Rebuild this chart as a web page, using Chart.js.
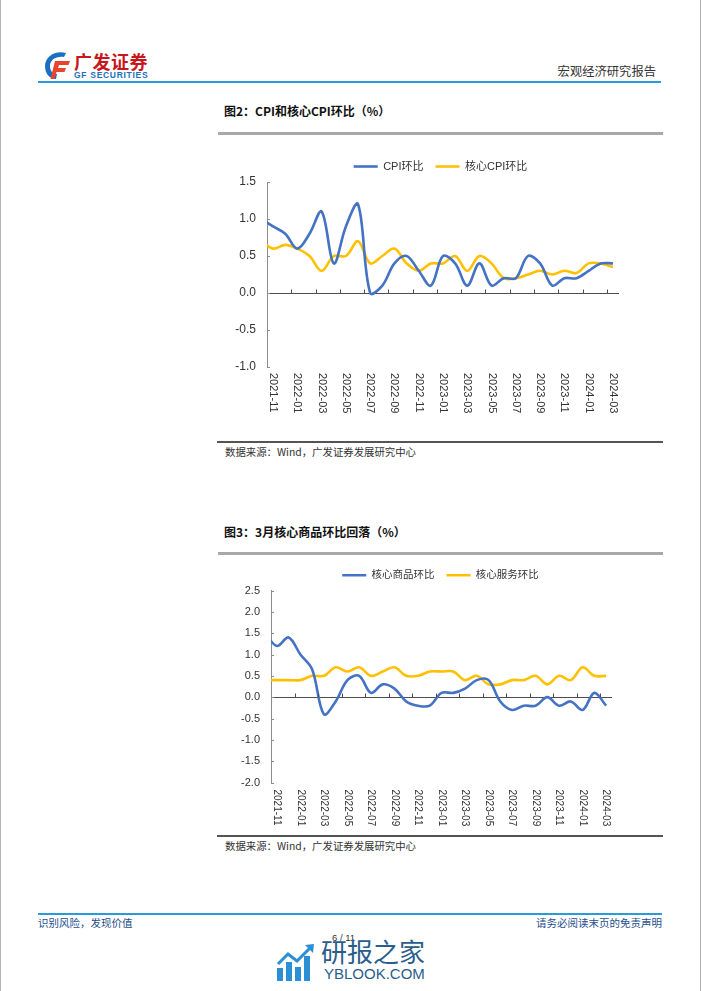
<!DOCTYPE html>
<html lang="zh-CN">
<head>
<meta charset="utf-8">
<title>CPI和核心CPI环比</title>
<script src="https://cdn.jsdelivr.net/npm/chart.js@4.4.1/dist/chart.umd.min.js"></script>
<style>
  html, body { margin: 0; padding: 0; background: #fff; }
  #page { position: relative; width: 702px; height: 991px; overflow: hidden;
          font-family: 'Noto Sans CJK SC', 'Liberation Sans', sans-serif; color: #222; }
  .abs { position: absolute; white-space: nowrap; }
  .rule { position: absolute; }
  canvas { position: absolute; }
</style>
</head>
<body>
<div id="page">
  <div class="rule" style="left:0;top:0;width:1px;height:991px;background:#b4b4b4"></div>
  <div class="rule" style="left:700px;top:0;width:1px;height:991px;background:#b4b4b4"></div>

  <!-- header -->
  <svg class="abs" style="left:41px;top:50px" width="32" height="30" viewBox="0 0 32 30">
    <path d="M25 3 C14 0 4 7 4 16 C4 24 9 29 15 29 L16 24 C11 24 9 20 9 16 C9 10 15 6 23 7 Z" fill="#1a6fc0"/>
    <path d="M14 11 H29 L27.5 15 H18 L17 18 H25 L23.5 22 H15.5 L13.5 29 H9.5 Z" fill="#e8452c"/>
  </svg>
  <div class="abs" style="left:74px;top:51px;font-size:18px;line-height:20px;font-weight:700;color:#c8161d;letter-spacing:0.5px">广发证券</div>
  <div class="abs" style="left:74px;top:71px;font:700 8.5px/8px 'Liberation Sans';color:#1d6fb8;letter-spacing:0.7px">GF SECURITIES</div>
  <div class="abs" style="right:46px;top:64px;font-size:12.3px;line-height:14px;color:#333">宏观经济研究报告</div>
  <div class="rule" style="left:38px;top:81px;width:623px;height:2px;background:#2a9ad8"></div>

  <!-- figure 2 -->
  <div class="abs" style="left:224px;top:104px;font-size:12px;line-height:14px;font-weight:700;color:#111">图2：CPI和核心CPI环比（%）</div>
  <div class="rule" style="left:218px;top:132px;width:445px;height:2.5px;background:#a8a8a8"></div>
  <canvas id="c1" width="445" height="300" style="left:218px;top:140px"></canvas>
  <div class="rule" style="left:217px;top:441px;width:446px;height:1.5px;background:#555"></div>
  <div class="abs" style="left:225px;top:446px;font-size:10.4px;line-height:12px;color:#333">数据来源：Wind，广发证券发展研究中心</div>

  <!-- figure 3 -->
  <div class="abs" style="left:224px;top:525px;font-size:12px;line-height:14px;font-weight:700;color:#111">图3：3月核心商品环比回落（%）</div>
  <div class="rule" style="left:218px;top:552px;width:445px;height:2.5px;background:#a8a8a8"></div>
  <canvas id="c2" width="445" height="280" style="left:218px;top:555px"></canvas>
  <div class="rule" style="left:217px;top:835px;width:446px;height:1.5px;background:#555"></div>
  <div class="abs" style="left:225px;top:840px;font-size:10.4px;line-height:12px;color:#333">数据来源：Wind，广发证券发展研究中心</div>

  <!-- footer -->
  <div class="rule" style="left:38px;top:913px;width:624px;height:1.5px;background:#2a9ad8"></div>
  <div class="abs" style="left:38px;top:917px;font-size:10.5px;line-height:12px;color:#1f4e8c">识别风险，发现价值</div>
  <div class="abs" style="right:40px;top:917px;font-size:10.5px;line-height:12px;color:#1f4e8c">请务必阅读末页的免责声明</div>
  <div class="abs" style="left:332px;top:933px;font:9.5px/10px 'Liberation Sans';color:#333">6 / 11</div>
  <svg class="abs" style="left:276px;top:942px" width="40" height="40" viewBox="0 0 40 40">
    <rect x="1" y="26" width="6" height="13" fill="#2b8fd6"/>
    <rect x="10" y="20" width="6" height="19" fill="#2b8fd6"/>
    <rect x="19" y="25" width="6" height="14" fill="#2b8fd6"/>
    <rect x="28" y="14" width="6" height="25" fill="#2b8fd6"/>
    <polyline points="2,22 12,12 21,19 35,5" fill="none" stroke="#2b8fd6" stroke-width="3"/>
    <polygon points="29,3 38,2 37,11" fill="#2b8fd6"/>
  </svg>
  <div class="abs" style="left:321px;top:937px;font-size:26px;line-height:28px;color:#2a5d8c">研报之家</div>
  <div class="abs" style="left:324px;top:966px;font:15px/16px 'Liberation Sans';color:#2a5d8c">YBLOOK.COM</div>
</div>

<script>
// monthly data; 2021-10 sits just left of the axis and gets clipped like the Excel original
const months = ['2021-10', '2021-11', '2021-12', '2022-01', '2022-02', '2022-03', '2022-04', '2022-05',
  '2022-06', '2022-07', '2022-08', '2022-09', '2022-10', '2022-11', '2022-12', '2023-01', '2023-02',
  '2023-03', '2023-04', '2023-05', '2023-06', '2023-07', '2023-08', '2023-09', '2023-10', '2023-11',
  '2023-12', '2024-01', '2024-02', '2024-03'];

const cpiMom = [1.0, 0.9, 0.8, 0.6, 0.8, 1.1, 0.4, 0.9, 1.2, 0.0, 0.1, 0.4, 0.5, 0.3, 0.1,
  0.5, 0.4, 0.1, 0.4, 0.1, 0.2, 0.2, 0.5, 0.4, 0.1, 0.2, 0.2, 0.3, 0.4, 0.4];
const coreCpiMom = [0.7, 0.6, 0.65, 0.6, 0.5, 0.3, 0.5, 0.5, 0.7, 0.4, 0.5, 0.6, 0.4, 0.3, 0.4,
  0.4, 0.5, 0.3, 0.5, 0.4, 0.2, 0.2, 0.25, 0.3, 0.25, 0.3, 0.27, 0.4, 0.4, 0.35];

const coreGoodsMom = [1.5, 1.2, 1.4, 1.0, 0.65, -0.4, -0.1, 0.4, 0.5, 0.1, 0.3, 0.2, -0.1, -0.2, -0.2,
  0.1, 0.1, 0.2, 0.4, 0.4, -0.1, -0.3, -0.2, -0.2, 0.0, -0.2, -0.1, -0.3, 0.1, -0.2];
const coreServicesMom = [0.4, 0.4, 0.4, 0.4, 0.5, 0.5, 0.7, 0.6, 0.7, 0.5, 0.6, 0.7, 0.5, 0.5, 0.6,
  0.6, 0.6, 0.4, 0.5, 0.3, 0.3, 0.4, 0.4, 0.5, 0.3, 0.5, 0.4, 0.7, 0.5, 0.5];

const yRange1 = [-1.0, 1.5];
const yRange2 = [-2.0, 2.5];

const BLUE = '#4472C4';
const GOLD = '#FFC000';
const FONT = "'Liberation Sans', 'Noto Sans CJK SC', sans-serif";

Chart.defaults.font.family = FONT;

// Excel look: small ticks inside the y axis, ticks on the zero line,
// x labels turned clockwise (reading top to bottom)
const axisDecor = {
  id: 'axisDecor',
  afterDraw(chart, args, opts) {
    const { ctx, chartArea } = chart;
    const x = chart.scales.x, y = chart.scales.y;
    const half = (x.getPixelForValue(2) - x.getPixelForValue(1)) / 2;
    const y0 = Math.round(y.getPixelForValue(0)) + 0.5;
    ctx.save();
    ctx.lineWidth = 1;
    ctx.strokeStyle = '#8c8c8c';
    y.ticks.forEach((t, i) => {
      const py = Math.round(y.getPixelForTick(i)) + 0.5;
      ctx.beginPath();
      ctx.moveTo(chartArea.left, py);
      ctx.lineTo(chartArea.left + 3, py);
      ctx.stroke();
    });
    ctx.strokeStyle = '#4d4d4d';
    ctx.font = opts.font;
    ctx.fillStyle = '#333';
    ctx.textAlign = 'left';
    ctx.textBaseline = 'middle';
    x.ticks.forEach((t, i) => {
      if ((t.value - 1) % 2 !== 0) return;
      const px = x.getPixelForTick(i);
      if (t.value > 1) {
        const bx = Math.round(px - half) + 0.5;
        ctx.beginPath();
        ctx.moveTo(bx, y0);
        ctx.lineTo(bx, y0 - 4);
        ctx.stroke();
      }
      ctx.save();
      ctx.translate(px, chartArea.bottom + opts.gap);
      ctx.rotate(Math.PI / 2);
      ctx.fillText(x.getLabelForValue(t.value), 0, 0);
      ctx.restore();
    });
    ctx.restore();
  }
};

function seriesChart(id, cfg) {
  return new Chart(document.getElementById(id), {
    type: 'line',
    data: {
      labels: months,
      datasets: cfg.series.map(s => ({
        label: s.label,
        data: s.data,
        borderColor: s.color,
        backgroundColor: s.color,
        borderWidth: 2.6,
        pointRadius: 0,
        tension: 0.35,
        clip: 0,
      })),
    },
    options: {
      responsive: false,
      animation: false,
      devicePixelRatio: 1,
      layout: { padding: { top: cfg.padTop, left: 0, right: 0, bottom: 0 } },
      plugins: {
        legend: {
          maxHeight: cfg.legendH,
          labels: {
            usePointStyle: true, pointStyle: 'line', pointStyleWidth: 24,
            padding: 12, color: '#333', font: { size: cfg.legendSize },
          },
        },
        tooltip: { enabled: false },
        axisDecor: { font: cfg.labelFont, gap: cfg.gap },
      },
      scales: {
        x: {
          min: '2021-11',
          offset: true,
          grid: { display: false },
          border: { display: false },
          ticks: { display: false },
          afterFit: s => { s.height = cfg.xH; },
        },
        y: {
          min: cfg.yRange[0],
          max: cfg.yRange[1],
          ticks: {
            stepSize: 0.5, padding: 11, color: '#333',
            font: { size: cfg.ySize },
            callback: v => v.toFixed(1),
          },
          grid: { drawTicks: false, color: c => (c.tick && c.tick.value === 0) ? '#4d4d4d' : 'transparent' },
          border: { display: true, color: '#8c8c8c' },
          afterFit: s => { s.width = cfg.yW; },
        },
        pad: {
          position: 'right',
          grid: { display: false },
          border: { display: false },
          ticks: { display: false },
          afterFit: s => { s.width = cfg.rightW; },
        },
      },
    },
    plugins: [axisDecor],
  });
}

seriesChart('c1', {
  series: [
    { label: 'CPI环比', data: cpiMom, color: BLUE },
    { label: '核心CPI环比', data: coreCpiMom, color: GOLD },
  ],
  yRange: yRange1,
  padTop: 9, legendH: 34, legendSize: 11, ySize: 12,
  labelFont: "11px 'Liberation Sans'", gap: 6,
  xH: 73, yW: 49, rightW: 44,
});

seriesChart('c2', {
  series: [
    { label: '核心商品环比', data: coreGoodsMom, color: BLUE },
    { label: '核心服务环比', data: coreServicesMom, color: GOLD },
  ],
  yRange: yRange2,
  padTop: 3, legendH: 37, legendSize: 10.5, ySize: 11,
  labelFont: "10px 'Liberation Sans'", gap: 7,
  xH: 52.5, yW: 53, rightW: 51,
});
</script>
</body>
</html>
